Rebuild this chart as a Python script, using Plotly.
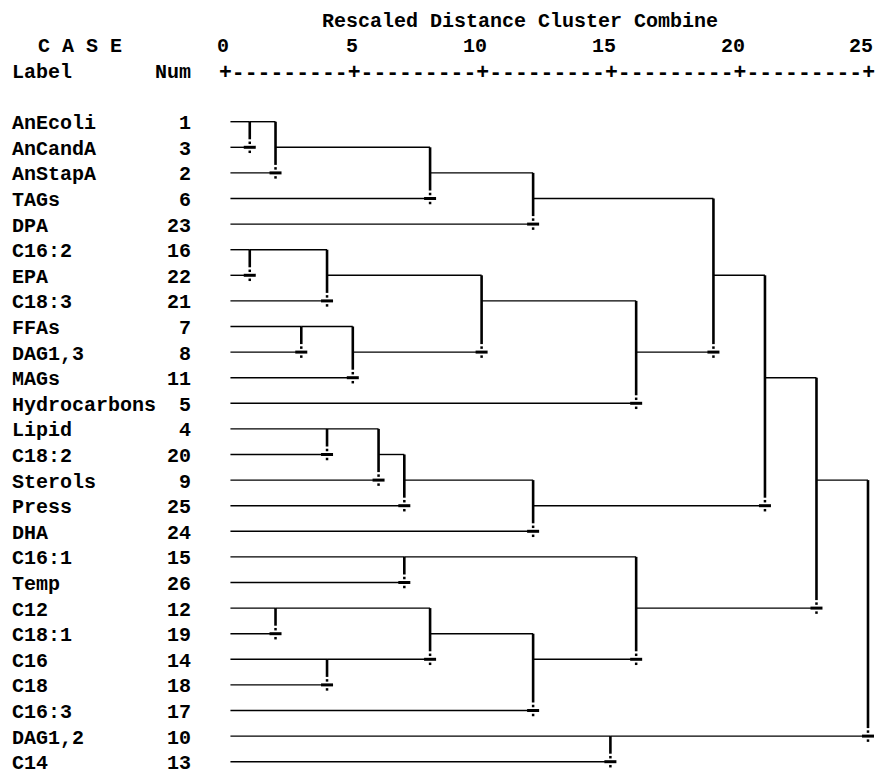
import plotly.graph_objects as go

# Cases in dendrogram order, top to bottom
case_labels = ["AnEcoli", "AnCandA", "AnStapA", "TAGs", "DPA", "C16:2", "EPA",
               "C18:3", "FFAs", "DAG1,3", "MAGs", "Hydrocarbons", "Lipid",
               "C18:2", "Sterols", "Press", "DHA", "C16:1", "Temp", "C12",
               "C18:1", "C16", "C18", "C16:3", "DAG1,2", "C14"]
case_nums = [1, 3, 2, 6, 23, 16, 22, 21, 7, 8, 11, 5, 4, 20, 9, 25, 24, 15,
             26, 12, 19, 14, 18, 17, 10, 13]

# Agglomeration steps (rescaled distance). Nodes 0..25 are the cases by row;
# step k creates node 26 + k. join_first is always the upper member.
join_first = [0, 26, 27, 28, 5, 30, 8, 32, 31, 34, 29, 12, 37, 38, 39, 36,
              17, 19, 21, 43, 45, 42, 41, 24, 48]
join_second = [1, 2, 3, 4, 6, 7, 9, 10, 33, 11, 35, 13, 14, 15, 16, 40,
               18, 20, 22, 44, 23, 46, 47, 25, 49]
join_distance = [1, 2, 8, 12, 1, 4, 3, 5, 10, 16, 19, 4, 6, 7, 12, 21,
                 7, 2, 4, 8, 12, 16, 23, 15, 25]

axis_ticks = [0, 5, 10, 15, 20, 25]

# ---- page geometry (pixels) ----
W, H = 875, 770
X0_PX, UNIT_PX = 224.0, 25.76     # distance 0 and pixels per distance unit
Y0_PX, ROW_PX = 121.7, 25.6       # first case row and row pitch
COL = 0.5                         # one character column in distance units
FAMILY = "Liberation Mono, Courier New, monospace"
FONT = dict(family=FAMILY, size=20, color="#000000", weight="bold")
# ruler characters sit exactly on the character grid (advance = 0.6 em)
RULER_FONT = dict(family=FAMILY, size=COL * UNIT_PX / 0.6 - 0.02,
                  color="#000000", weight="bold")
INK = "#000000"

x_range = [-X0_PX / UNIT_PX, (W - X0_PX) / UNIT_PX]
y_range = [(H - Y0_PX) / ROW_PX, -Y0_PX / ROW_PX]

n = len(case_labels)
leaf_start = COL / 2
row = {i: i for i in range(n)}
xpos = {i: leaf_start for i in range(n)}
parent_x = {}
for k, (a, b, d) in enumerate(zip(join_first, join_second, join_distance)):
    node = n + k
    row[node] = (row[a] + row[b]) // 2
    xpos[node] = d
    parent_x[a] = d
    parent_x[b] = d

# horizontal branches
hx, hy = [], []
for node, px in parent_x.items():
    hx += [xpos[node], px, None]
    hy += [row[node], row[node], None]

# vertical joins, ending just above the divide mark
gap = 8 / ROW_PX
vx, vy = [], []
mx, my = [], []
dot_x, dot_y = [], []
half_mark = 6 / UNIT_PX
dot_off = 4.5 / ROW_PX
for a, b, d in zip(join_first, join_second, join_distance):
    vx += [d, d, None]
    vy += [row[a], row[b] - gap, None]
    mx += [d - half_mark, d + half_mark, None]
    my += [row[b], row[b], None]
    dot_x += [d, d]
    dot_y += [row[b] - dot_off, row[b] + dot_off]

fig = go.Figure()
fig.add_trace(go.Scatter(x=hx, y=hy, mode="lines",
                         line=dict(color=INK, width=1.4), hoverinfo="skip"))
fig.add_trace(go.Scatter(x=vx, y=vy, mode="lines",
                         line=dict(color=INK, width=2.6), hoverinfo="skip"))
fig.add_trace(go.Scatter(x=mx, y=my, mode="lines",
                         line=dict(color=INK, width=3), hoverinfo="skip"))
fig.add_trace(go.Scatter(x=dot_x, y=dot_y, mode="markers",
                         marker=dict(symbol="square", size=2.5, color=INK,
                                     line=dict(width=0)),
                         hoverinfo="skip"))

label_x = -16 * COL - COL / 2     # left edge of the label column
num_x = -3 * COL + COL / 2        # right edge of the case number column
text_dy = -2

ann = []
def put(text, x, y, anchor, font=FONT):
    ann.append(dict(text=text, x=x, y=y, xref="x", yref="y", xanchor=anchor,
                    yanchor="middle", yshift=text_dy, showarrow=False,
                    font=font, borderpad=0))

for i, (lab, num) in enumerate(zip(case_labels, case_nums)):
    put(lab, label_x, i, "left")
    put(str(num), num_x, i, "right")

# header block
title = "Rescaled Distance Cluster Combine"
put(title, 7 * COL - COL / 2 + len(title) * COL / 2, -4, "center")
put("C A S E", -14 * COL - COL / 2, -3, "left")
for t in axis_ticks:
    put(str(t), t + COL / 2, -3, "right")
put("Label", label_x, -2, "left")
put("Num", num_x, -2, "right")
step = axis_ticks[1] - axis_ticks[0]
ruler = "+" + ("-" * (int(step / COL) - 1) + "+") * (len(axis_ticks) - 1)
put(ruler, -COL / 2, -2, "left", RULER_FONT)

fig.update_layout(
    width=W, height=H, margin=dict(l=0, r=0, t=0, b=0),
    paper_bgcolor="white", plot_bgcolor="white", showlegend=False,
    annotations=ann,
    xaxis=dict(range=x_range, visible=False, fixedrange=True),
    yaxis=dict(range=y_range, visible=False, fixedrange=True),
)
fig.write_html("out.html")
